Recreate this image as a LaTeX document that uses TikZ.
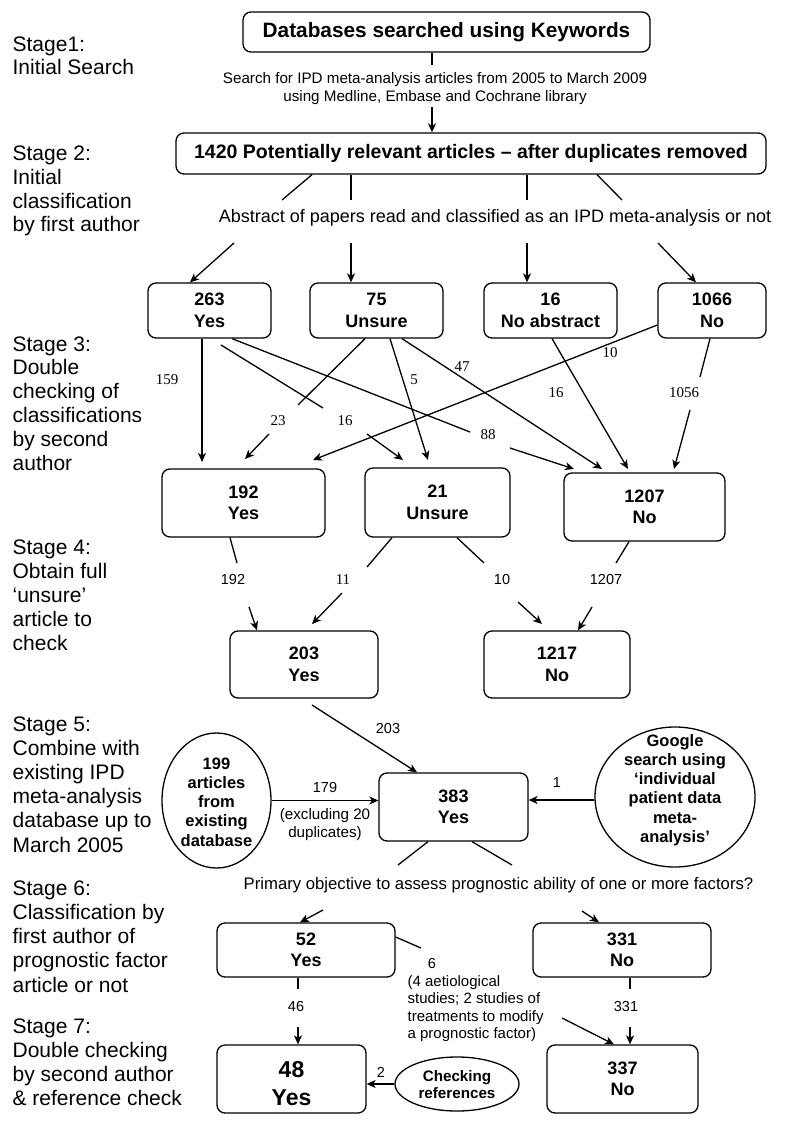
\documentclass[tikz,border=0pt]{standalone}
\usepackage{fontspec}
\setmainfont{Liberation Sans}
\newfontfamily\serifnum{Liberation Serif}
\usetikzlibrary{arrows.meta, shapes.geometric, calc}

\begin{document}
\begin{tikzpicture}[x=1pt, y=-1pt,
        box/.style={draw, rounded corners=8pt, line width=1.3pt, align=center,
            inner sep=0pt, font=\fontsize{18}{21.5}\selectfont\bfseries},
        oval/.style={draw, ellipse, line width=1.3pt, inner sep=0pt},
        ovaltext/.style={align=center, inner sep=0pt,
            font=\fontsize{16.5}{19.3}\selectfont\bfseries},
        stagetext/.style={anchor=base west, align=left, inner sep=0pt,
            font=\fontsize{21}{23.8}\selectfont},
        note/.style={align=center, inner sep=0pt, font=\fontsize{15.2}{18}\selectfont},
        num/.style={inner sep=0pt, font=\fontsize{14.5}{17}\selectfont},
        snum/.style={inner sep=0pt, font=\fontsize{15}{17}\selectfont\serifnum},
        every path/.style={line width=1.3pt},
        >={Stealth[length=9pt, width=8pt, inset=2.5pt]}]
    \useasboundingbox (0,0) rectangle (785,1131);

    % stage labels (placed at the baseline of their last line)
    \node[stagetext] (st1) at (12,75) {Stage1:\\Initial Search};
    \node[stagetext] (st2) at (12,232) {Stage 2:\\Initial\\classification\\by first author};
    \node[stagetext] (st3) at (12,470) {Stage 3:\\Double\\checking of\\classifications\\by second\\author};
    \node[stagetext] (st4) at (12,650) {Stage 4:\\Obtain full\\‘unsure’\\article to\\check};
    \node[stagetext, font=\fontsize{21}{24.2}\selectfont] (st5) at (12,852) {Stage 5:\\Combine with\\existing IPD\\meta-analysis\\database up to\\March 2005};
    \node[stagetext, font=\fontsize{21}{24.2}\selectfont] (st6) at (12,992) {Stage 6:\\Classification by\\first author of\\prognostic factor\\article or not};
    \node[stagetext] (st7) at (12,1105) {Stage 7:\\Double checking\\by second author\\\& reference check};

    % boxes
    \node[box, minimum width=407pt, minimum height=40pt, font=\fontsize{20.8}{24}\selectfont\bfseries] (db) at (446.5,32) {Databases searched using Keywords};
    \node[note] (search) at (435,89) {Search for IPD meta-analysis articles from 2005 to March 2009\\using Medline, Embase and Cochrane library};
    \node[box, minimum width=590pt, minimum height=41pt, font=\fontsize{19.5}{22}\selectfont\bfseries] (rel) at (471,153.5) {1420 Potentially relevant articles -- after duplicates removed};
    \node[note, font=\fontsize{18}{21}\selectfont] (abstr) at (495,218) {Abstract of papers read and classified as an IPD meta-analysis or not};

    \node[box, minimum width=123pt, minimum height=55pt] (yes1) at (209.5,310.5) {263\\Yes};
    \node[box, minimum width=133pt, minimum height=55pt] (uns1) at (376.5,310.5) {75\\Unsure};
    \node[box, minimum width=133pt, minimum height=55pt] (noab) at (550.5,310.5) {16\\No abstract};
    \node[box, minimum width=108pt, minimum height=55pt] (no1) at (712,310.5) {1066\\No};

    \node[box, minimum width=163pt, minimum height=68pt] (yes2) at (243.5,503) {192\\Yes};
    \node[box, minimum width=145pt, minimum height=69pt] (uns2) at (437.5,502.5) {21\\Unsure};
    \node[box, minimum width=161pt, minimum height=68pt] (no2) at (644.5,507) {1207\\No};

    \node[box, minimum width=148pt, minimum height=67pt] (yes3) at (304,664.5) {203\\Yes};
    \node[box, minimum width=146pt, minimum height=67pt] (no3) at (557,664.5) {1217\\No};

    \node[box, minimum width=149pt, minimum height=68pt] (yes4) at (453.5,807) {383\\Yes};
    \node[oval, minimum width=109pt, minimum height=135pt] (db199) at (216.5,800.5) {};
    \node[ovaltext] (db199text) at (216.5,802) {199\\articles\\from\\existing\\database};
    \node[oval, minimum width=160pt, minimum height=140pt] (google) at (675,797) {};
    \node[ovaltext] (googletext) at (675,790) {Google\\search using\\‘individual\\patient data\\meta-\\analysis’};
    \node[note, font=\fontsize{16.7}{20}\selectfont] (prim) at (498.5,885) {Primary objective to assess prognostic ability of one or more factors?};

    \node[box, minimum width=178pt, minimum height=54pt] (yes5) at (306,950) {52\\Yes};
    \node[box, minimum width=178pt, minimum height=54pt] (no5) at (622,950) {331\\No};
    \node[box, minimum width=149pt, minimum height=68pt, font=\fontsize{23}{28}\selectfont\bfseries] (yes6) at (291.5,1079) {\rule{0pt}{25pt}48\\Yes};
    \node[box, minimum width=151pt, minimum height=68pt] (no6) at (622.5,1079) {337\\No};
    \node[oval, minimum width=124pt, minimum height=54pt] (chk) at (457,1084) {};
    \node[ovaltext, font=\fontsize{15.2}{17}\selectfont\bfseries] (chktext) at (457,1085) {Checking\\references};

    % free ends of connectors
    \coordinate (s1) at (432,65);     \coordinate (s2) at (432,107);
    \coordinate (r1) at (282,200);    \coordinate (r2) at (351,200);
    \coordinate (r3) at (527,200);    \coordinate (r4) at (622,200);
    \coordinate (q1) at (234,243);    \coordinate (q2) at (351,243);
    \coordinate (q3) at (527,243);    \coordinate (q4) at (658,243);
    \coordinate (t159) at (202,462);
    \coordinate (f16) at (221,345);   \coordinate (g16) at (323,408);
    \coordinate (h16) at (367,434);   \coordinate (t16) at (403,460);
    \coordinate (g88) at (470,432);   \coordinate (h88) at (510,448);
    \coordinate (t88) at (574,469);
    \coordinate (g23) at (298,405);   \coordinate (h23) at (269,434);
    \coordinate (t23) at (245,459);
    \coordinate (t5) at (428,460);    \coordinate (t47) at (602,469);
    \coordinate (t10) at (313,460);   \coordinate (t16b) at (628,469);
    \coordinate (g1056) at (700,377); \coordinate (h1056) at (690,410);
    \coordinate (t1056) at (674,469);
    \coordinate (g192) at (237,563);  \coordinate (h192) at (249,607);
    \coordinate (g11) at (367,567);   \coordinate (h11) at (342,593);
    \coordinate (t11) at (312,624);
    \coordinate (g10) at (484,563);   \coordinate (h10) at (518,602);
    \coordinate (t10b) at (542,624);
    \coordinate (g1207) at (616,563); \coordinate (h1207) at (592,607);
    \coordinate (f203) at (312,705);
    \coordinate (p1) at (398,865);    \coordinate (p2) at (512,865);
    \coordinate (k1) at (323,910);    \coordinate (k2) at (582,911);
    \coordinate (g6) at (421,948);    \coordinate (h6) at (562,1018);
    \coordinate (g46) at (298,989);   \coordinate (h46) at (298,1027);
    \coordinate (g331) at (630,989);  \coordinate (h331) at (630,1027);

    % stages 1 and 2
    \draw (db.south -| 432,0) -- (s1);
    \draw[->] (s2) -- (rel.north -| 432,0);
    \draw (rel.south -| 312,0) -- (r1);
    \draw (rel.south -| 351,0) -- (r2);
    \draw (rel.south -| 527,0) -- (r3);
    \draw (rel.south -| 597,0) -- (r4);
    \draw[->] (q1) -- (yes1.north -| 190,0);
    \draw[->] (q2) -- (uns1.north -| 351,0);
    \draw[->] (q3) -- (noab.north -| 527,0);
    \draw[->] (q4) -- (no1.north -| 696,0);

    % stage 3
    \draw[->] (yes1.south -| 202,0) -- (t159);
    \node[snum] (n159) at (167,380) {159};
    \draw (f16) -- (g16);
    \draw[->] (h16) -- (t16);
    \node[snum] (n16a) at (345,421) {16};
    \draw (yes1.south -| 232,0) -- (g88);
    \draw[->] (h88) -- (t88);
    \node[snum] (n88) at (488,435) {88};
    \draw (uns1.south -| 365,0) -- (g23);
    \draw[->] (h23) -- (t23);
    \node[snum] (n23) at (278,421) {23};
    \draw[->] (uns1.south -| 390,0) -- (t5);
    \node[snum] (n5) at (414,380) {5};
    \draw[->] (uns1.south -| 402,0) -- (t47);
    \node[snum] (n47) at (462,367) {47};
    \draw[->] (no1.west |- 0,325) -- (t10);
    \node[snum] (n10a) at (610,353) {10};
    \draw[->] (noab.south -| 552,0) -- (t16b);
    \node[snum] (n16b) at (556,393) {16};
    \draw (no1.south -| 710,0) -- (g1056);
    \draw[->] (h1056) -- (t1056);
    \node[snum] (n1056) at (684,393) {1056};

    % stage 4
    \draw (yes2.south -| 230,0) -- (g192);
    \draw[->] (h192) -- (yes3.north -| 257,0);
    \node[num] (n192) at (233,580) {192};
    \draw (uns2.south -| 392,0) -- (g11);
    \draw[->] (h11) -- (t11);
    \node[snum] (n11) at (343,580) {11};
    \draw (uns2.south -| 457,0) -- (g10);
    \draw[->] (h10) -- (t10b);
    \node[num] (n10b) at (502,580) {10};
    \draw (no2.south -| 629,0) -- (g1207);
    \draw[->] (h1207) -- (no3.north -| 578,0);
    \node[num] (n1207) at (606,580) {1207};

    % stage 5
    \draw[->] (f203) -- (yes4.north -| 417,0);
    \node[num] (n203) at (388,729) {203};
    \draw[->] (db199.east) -- (yes4.west |- db199.east);
    \node[num] (n179) at (325,788) {179};
    \node[note] (excl) at (325,825) {(excluding 20\\duplicates)};
    \draw[->] (google.west |- 0,800) -- (yes4.east |- 0,800);
    \node[num] (n1) at (557,783) {1};
    \draw (yes4.south -| 428,0) -- (p1);
    \draw (yes4.south -| 472,0) -- (p2);

    % stages 6 and 7
    \draw[->] (k1) -- (yes5.north -| 300,0);
    \draw[->] (k2) -- (no5.north -| 599,0);
    \draw (yes5.east |- 0,937) -- (g6);
    \node[num] (n6) at (432,963) {6};
    \node[note, anchor=base west, align=left, font=\fontsize{15}{17.3}\selectfont] (aetio) at (407,1038.5) {(4 aetiological\\studies; 2 studies of\\treatments to modify\\a prognostic factor)};
    \draw[->] (h6) -- (no6.north -| 614,0);
    \draw (yes5.south -| 298,0) -- (g46);
    \draw[->] (h46) -- (yes6.north -| 298,0);
    \node[num] (n46) at (296,1006) {46};
    \draw (no5.south -| 630,0) -- (g331);
    \draw[->] (h331) -- (no6.north -| 630,0);
    \node[num] (n331) at (626,1006) {331};
    \draw[->] (chk.west) -- (yes6.east |- chk.west);
    \node[num] (n2) at (381,1072) {2};
\end{tikzpicture}
\end{document}
